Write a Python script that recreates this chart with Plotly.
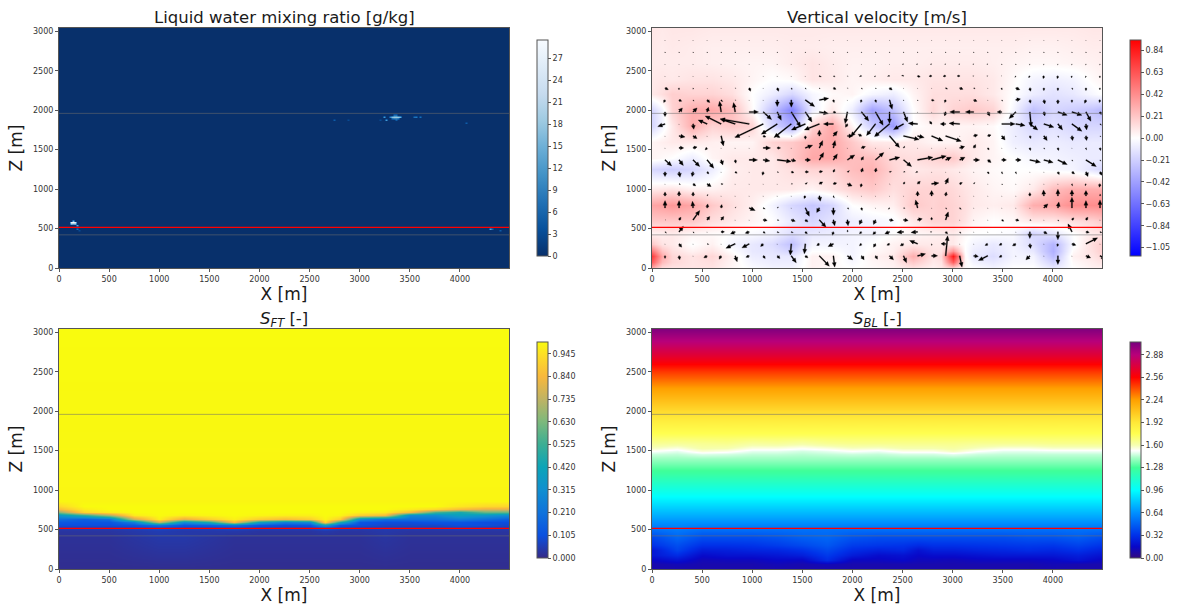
import math
import numpy as np
import plotly.graph_objects as go

W, H = 1178, 606
X_MAX, Z_MAX = 4490, 3042
PANELS = {"qc": (59, 509, 28, 268), "w": (652, 1102, 28, 268), "ft": (59, 509, 329, 569), "bl": (652, 1102, 329, 569)}
CBARS = {"qc": (537, 40), "w": (1130, 40), "ft": (537, 342), "bl": (1130, 342)}

levels_gray = [1960, 420]
level_red = 515

# ---- liquid water: sparse cloud cells on a zero background
qc_x = [124, 140, 150, 124, 140, 150, 140, 142, 172, 172, 190, 3235, 3265, 3300, 3320, 3340, 3360, 3380, 3400, 3320, 3340, 3360, 3380, 3340, 3360, 3350, 3535, 3560, 3590, 2740, 2880, 3200, 4060, 4305, 4325, 4405]
qc_z = [589, 589, 589, 569, 569, 569, 609, 555, 538, 496, 479, 1915, 1886, 1915, 1915, 1915, 1915, 1915, 1915, 1895, 1895, 1895, 1895, 1935, 1935, 1870, 1915, 1915, 1915, 1873, 1873, 1873, 1840, 496, 496, 479]
qc_v = [27, 29, 25, 14, 22, 14, 16, 12, 14, 7, 3, 12, 12, 10, 17, 18, 18, 18, 15, 8, 10, 10, 8, 7, 7, 5, 7, 8, 7, 5, 3, 3, 5, 13, 6, 5]
qc_ticks = [0, 3, 6, 9, 12, 15, 18, 21, 24, 27]

# ---- vertical velocity (m/s), rows ascending in z
w_x = [0, 200, 400, 600, 800, 1000, 1200, 1400, 1600, 1800, 2000, 2200, 2400, 2600, 2800, 3000, 3200, 3400, 3600, 3800, 4000, 4200, 4400, 4490]
w_z = [0, 80, 150, 220, 300, 450, 600, 800, 1000, 1250, 1400, 1600, 1800, 2000, 2200, 2400, 2600, 2800, 3042]
w_rows = [
    [.3,.1,.1,.1,.03,-.02,-.05,-.05,.05,.02,0,.02,.05,.1,.05,.15,0,-.05,0,0,-.1,0,.05,.05],
    [.6,.15,.1,.12,.04,-.05,-.08,-.08,.05,.03,-.03,.03,.06,.2,.08,.6,-.05,-.1,-.03,-.03,-.2,.02,.07,.1],
    [.72,.15,.1,.15,.05,-.08,-.1,-.1,.05,.05,-.05,.05,.08,.3,.1,.85,-.1,-.15,-.05,-.05,-.3,.05,.1,.15],
    [.5,.12,.05,.1,0,-.1,-.12,-.2,0,0,-.05,.02,.06,.2,.1,.4,-.08,-.12,-.05,-.1,-.35,.02,.12,.18],
    [.2,.08,0,.05,-.05,-.1,-.15,-.28,-.05,-.05,-.05,0,.05,.08,.08,.08,-.05,-.1,-.05,-.15,-.33,-.02,.13,.18],
    [.05,.08,.04,.02,0,-.02,-.05,-.14,-.1,-.08,-.05,-.05,0,.03,.05,.08,0,0,-.02,-.18,-.1,0,.08,.1],
    [.2,.2,.2,.12,.08,.04,0,-.1,-.18,-.12,-.08,-.05,-.03,.08,.16,.16,.04,0,.02,.08,.08,.12,.16,.2],
    [.33,.38,.33,.2,.12,.06,-.05,-.18,-.25,-.18,0,.04,.06,.2,.16,.16,.08,.06,.08,.3,.33,.42,.42,.42],
    [.08,.1,.05,.05,.08,.08,.08,.08,.04,.1,.16,.2,.12,.16,.16,.14,.08,.04,.02,.08,.24,.3,.3,.3],
    [-.18,-.22,-.18,-.08,.06,.08,.08,.12,.16,.16,.24,.28,.16,.08,.1,.08,.04,.02,0,0,-.03,-.05,-.13,-.18],
    [.04,0,-.08,.04,.08,.08,.08,.2,.32,.32,.24,.24,.14,.12,.16,.2,.08,.04,0,-.04,-.05,-.07,-.09,-.09],
    [.04,.08,.08,.06,.04,.04,.16,.2,.28,.32,.2,.08,.08,.08,.04,.04,.08,.04,-.07,-.1,-.08,-.1,-.09,-.09],
    [-.18,.08,.3,.16,.2,.16,-.18,-.36,.16,.32,.04,-.22,-.45,0,.04,.04,.04,.02,-.08,-.18,-.13,-.18,-.18,-.18],
    [-.18,.16,.3,.32,.25,.02,-.27,-.55,-.08,.08,-.08,-.42,-.27,0,.15,.16,.2,.16,-.04,-.28,-.18,-.22,-.27,-.32],
    [.08,.18,.16,.16,.12,0,-.08,-.18,-.04,.02,.04,-.04,-.08,.04,.12,.12,.12,.08,0,-.08,-.13,-.1,-.03,0],
    [.08,.08,.1,.1,.08,.04,0,.02,.1,.08,.04,.06,.08,.08,.1,.1,.1,.08,.02,-.05,-.07,-.05,.02,.04],
    [.07,.07,.07,.06,.05,.04,.04,.07,.1,.07,.05,.05,.06,.06,.07,.07,.07,.06,.04,.03,.03,.04,.05,.06],
    [.08,.08,.07,.06,.06,.06,.06,.07,.07,.06,.06,.06,.06,.06,.06,.06,.06,.06,.06,.05,.05,.06,.07,.07],
    [.09,.09,.09,.08,.08,.08,.08,.08,.08,.08,.08,.08,.08,.08,.08,.08,.08,.08,.08,.08,.08,.08,.09,.09],
]
# extra columns that keep the two surface updraughts narrow
w_extra_x = [100, 2880, 3120]
w_extra_cols = [
    [.12,.25,.32,.22,.1,.06,.2,.35,.09,-.2,.02,.06,-.05,-.05,.12,.09,.07,.07,.08],
    [.08,.1,.14,.1,.08,.06,.16,.18,.16,.1,.18,.04,.04,.1,.12,.1,.07,.06,.08],
    [.02,.03,.02,.0,0,.02,.1,.12,.1,.06,.12,.06,.04,.18,.12,.1,.07,.06,.08],
]
w_ticks = [0.84, 0.63, 0.42, 0.21, 0.0, -0.21, -0.42, -0.63, -0.84, -1.05]

# ---- wind arrows: components in thirds of a screen pixel, v measured downward
arrow_x = [130 + 140 * k for k in range(32)]
arrow_z = [2890, 2738, 2586, 2434, 2282, 2130, 1978, 1826, 1674, 1522, 1370, 1218, 1066, 914, 762, 610, 458, 306, 154]
arrow_u = [
    [0]*32,
    [0]*32,
    [0]*17+[-4,-4,-4,-3,-3,-3,-3,0,0,-1,-1,-1,-1,-1,-1],
    [0]*11+[6,5,2,-6,-4,-6,-6,8,-8,-8,-8,-3,-3,-2,-3,-3,-2,-2,-1,-2,0],
    [10,0,0,1,0,2,4,0,4,2,2,2,8,2,2,2,8,0,0,0,6,10,4,0,1,12,2,0,0,2,0,0],
    [-4,8,2,8,5,2,0,0,0,0,28,28,2,0,-2,2,8,0,1,8,-3,0,10,0,2,14,2,3,0,0,-4,-2],
    [0,10,12,4,-5,-5,28,25,12,28,20,27,8,-7,22,23,0,12,0,0,-3,-30,-25,6,-14,-20,4,3,28,30,15,4],
    [-22,0,2,-27,-48,-45,-87,-85,-48,-52,-42,-45,-30,-6,-32,-27,-45,-30,-28,-6,-16,-32,0,0,40,28,24,30,14,30,2,4],
    [0,18,12,0,7,0,0,8,8,2,0,0,12,16,-10,8,30,47,20,34,47,0,12,10,10,0,3,10,2,2,2,2],
    [0,14,12,-6,0,0,0,22,10,0,22,10,5,0,12,0,0,3,0,0,0,15,6,4,0,0,2,2,2,0,2,2],
    [20,13,20,20,5,2,25,20,42,14,16,13,12,22,6,25,31,24,46,44,17,16,18,10,14,16,32,28,28,2,31,2],
    [0,3,-3,5,0,6,0,-2,4,8,10,10,4,6,4,2,6,5,-6,0,0,0,0,4,3,2,0,0,4,8,6,6],
    [0,4,8,12,6,0,0,0,0,4,6,10,10,14,-2,0,2,4,8,22,8,8,4,0,2,0,0,0,0,2,-2,-2],
    [0,0,0,3,0,0,0,0,0,0,-4,3,3,0,0,0,0,0,0,0,2,0,0,0,0,0,0,-1,0,0,0,0],
    [0,0,-2,2,2,3,18,6,4,0,12,-8,0,4,2,0,-4,4,-6,0,3,5,0,0,0,0,0,12,3,0,0,0],
    [2,6,20,8,8,0,0,12,5,12,8,20,4,2,-6,-6,12,14,14,0,8,0,0,0,6,10,4,0,2,6,6,0],
    [4,13,3,0,10,-14,-12,6,6,6,6,0,-3,0,-6,-8,-14,-20,-20,-4,6,3,0,0,0,0,0,10,0,-12,10,6],
    [0,8,0,5,0,-28,-22,-8,0,-3,-3,-8,-16,0,-6,-6,-8,-10,-24,0,-14,0,0,-8,-8,-10,2,0,-2,12,35,0],
    [0,2,0,-10,-6,6,-10,6,8,15,8,30,4,16,8,6,12,9,24,18,6,7,14,-28,-8,0,-12,0,0,0,14,18],
]
arrow_v = [
    [2]*32,
    [3]*32,
    [2]*17+[1,1,1,1,1,1,1,3,3,3,3,3,3,3,3],
    [2]*11+[2,3,2,2,2,1,-1,3,1,1,0,0,0,0,4,6,8,8,6,5,6],
    [5,6,4,2,2,2,10,2,10,5,4,3,4,2,4,3,6,2,2,2,3,4,3,2,6,5,10,8,8,5,8,6],
    [8,4,4,8,5,2,2,2,20,22,20,-5,8,2,8,8,28,3,3,2,8,2,4,2,4,-3,10,12,12,8,10,8],
    [14,-12,-12,-14,-32,-28,0,23,25,45,30,5,2,35,27,40,35,30,2,2,12,0,0,12,0,20,45,12,10,10,28,8],
    [8,2,16,-12,-24,-15,-15,41,31,41,18,18,0,10,38,35,38,17,-2,-8,0,-2,2,2,0,5,18,10,18,22,18,4],
    [2,3,8,2,30,2,2,3,5,2,10,-18,-14,0,-5,-6,35,11,5,15,16,2,-3,-3,12,2,8,14,5,14,14,3],
    [2,0,-3,6,2,2,2,0,0,2,-8,-22,-22,2,-4,2,2,-6,2,2,2,-4,-10,6,2,2,8,4,8,2,6,8],
    [18,17,20,25,15,10,0,3,5,3,0,-22,-18,-15,-10,-22,-8,20,-8,-12,-8,-8,0,8,0,0,7,8,14,4,20,4],
    [14,16,14,6,2,4,2,10,2,2,0,-2,-8,-4,-12,-12,-2,0,2,2,2,2,2,6,6,6,2,2,8,6,14,10],
    [2,2,6,8,0,2,2,2,2,0,-4,-6,-3,6,10,2,2,-6,-8,-3,-18,-4,-4,2,3,2,2,2,2,6,6,10],
    [-12,-14,-12,-4,2,2,2,2,2,2,8,16,6,2,2,2,2,2,-14,-16,-12,2,2,2,2,2,-10,-18,-20,-18,-16,-6],
    [-22,-22,-20,-12,-10,-2,8,3,-2,2,25,14,22,4,8,2,4,2,-24,2,4,4,2,2,2,2,2,-12,-18,-32,-22,-24],
    [0,-8,-28,-10,-10,2,2,2,2,4,6,22,18,18,14,14,2,2,-3,-8,-24,2,2,2,4,2,2,2,4,-6,-8,2],
    [4,-17,4,2,0,6,4,4,2,2,6,2,10,-6,6,8,6,2,2,0,6,5,2,2,2,2,20,6,24,-24,2,2],
    [2,10,2,2,2,13,12,8,2,34,30,5,8,2,6,10,4,6,-10,5,0,2,2,5,4,6,14,2,8,4,-18,2],
    [8,12,2,6,10,18,4,8,8,21,6,31,34,12,12,10,12,21,-6,0,-60,34,2,14,4,2,12,2,26,2,6,10],
]

# ---- free-troposphere tracer
col_x = [0, 250, 500, 750, 1000, 1250, 1500, 1750, 2000, 2250, 2500, 2650, 2800, 3000, 3250, 3500, 3750, 4000, 4250, 4490]
ft_z = [0, 400, 480, 520, 560, 600, 640, 680, 720, 760, 800, 860, 3042]
ft_rows = [
    [.01]*20,
    [.02,.02,.02,.03,.04,.04,.03,.02,.02,.02,.02,.02,.02,.02,.03,.02,.02,.02,.02,.02],
    [.03,.03,.03,.04,.05,.04,.04,.04,.03,.03,.03,.04,.03,.03,.04,.03,.03,.03,.03,.03],
    [.05,.05,.05,.06,.08,.06,.06,.08,.06,.06,.06,.1,.06,.05,.05,.05,.05,.06,.05,.05],
    [.1,.1,.1,.12,.2,.12,.15,.2,.12,.1,.12,.35,.12,.1,.08,.08,.08,.1,.1,.08],
    [.13,.12,.12,.25,.75,.3,.45,.85,.4,.25,.3,.92,.45,.12,.1,.1,.12,.12,.1,.1],
    [.2,.15,.2,.75,.98,.8,.9,.98,.9,.85,.9,.99,.9,.3,.2,.2,.2,.25,.2,.15],
    [.35,.5,.7,.97,1,.98,.99,1,.99,.98,.98,1,.99,.9,.85,.3,.3,.4,.35,.3],
    [.65,.92,.97,1,1,1,1,1,1,1,1,1,1,.98,.97,.85,.55,.45,.6,.6],
    [.85,.97,1,1,1,1,1,1,1,1,1,1,1,1,1,.97,.93,.85,.8,.8],
    [.93,1,1,1,1,1,1,1,1,1,1,1,1,1,1,1,1,.96,.93,.92],
    [.99]*20,
    [1]*20,
]
ft_ticks = [0.0, 0.105, 0.21, 0.315, 0.42, 0.525, 0.63, 0.735, 0.84, 0.945]

# ---- boundary-layer tracer
bl_z = [0, 60, 120, 180, 240, 300, 400, 500, 600, 800, 1000, 1200, 1400, 1460, 1500, 1540, 1600, 1700, 2000, 2300, 2500, 2600, 2700, 2850, 3042]
bl_rows = [
    [.1]*20,
    [.1,.12,.1,.1,.1,.12,.1,.12,.1,.1,.1,.1,.1,.1,.1,.1,.1,.12,.1,.1],
    [.15,.2,.12,.13,.13,.16,.15,.3,.14,.14,.16,.13,.13,.12,.14,.14,.14,.15,.2,.14],
    [.22,.3,.17,.2,.2,.22,.25,.35,.24,.18,.2,.16,.18,.18,.2,.22,.22,.22,.25,.2],
    [.22,.38,.24,.25,.27,.28,.32,.4,.3,.26,.28,.2,.25,.25,.27,.28,.3,.28,.32,.26],
    [.32,.42,.32,.32,.33,.36,.4,.45,.36,.34,.33,.3,.32,.32,.33,.34,.35,.34,.38,.33],
    [.4,.5,.42,.42,.42,.44,.48,.5,.44,.42,.42,.42,.42,.42,.42,.42,.44,.44,.47,.42],
    [.52,.56,.52,.52,.52,.52,.53,.53,.52,.52,.52,.52,.52,.52,.52,.52,.52,.52,.53,.52],
    [.64]*20,
    [.84]*20,
    [1.04]*20,
    [1.24]*20,
    [1.4]*20,
    [1.46,1.45,1.48,1.47,1.45,1.45,1.44,1.45,1.46,1.45,1.47,1.47,1.47,1.49,1.46,1.45,1.45,1.45,1.45,1.45],
    [1.52,1.49,1.56,1.54,1.49,1.49,1.47,1.49,1.52,1.5,1.54,1.54,1.54,1.58,1.52,1.49,1.49,1.5,1.5,1.5],
    [1.58,1.55,1.61,1.6,1.55,1.55,1.53,1.55,1.58,1.57,1.6,1.6,1.6,1.62,1.58,1.55,1.55,1.57,1.57,1.57],
    [1.65,1.64,1.65,1.66,1.63,1.64,1.62,1.65,1.66,1.66,1.66,1.66,1.66,1.66,1.65,1.65,1.65,1.66,1.66,1.66],
    [1.74]*20,
    [1.98]*20,
    [2.24]*20,
    [2.44]*20,
    [2.56]*20,
    [2.68]*20,
    [2.84]*20,
    [3.03]*20,
]
bl_ticks = [0.0, 0.32, 0.64, 0.96, 1.28, 1.6, 1.92, 2.24, 2.56, 2.88]

# ---- colour scales
W_MIN, W_MAX = -1.13, 0.94
W_MID = -W_MIN / (W_MAX - W_MIN)
w_scale = [[0, "#0000ff"], [W_MID, "#ffffff"], [1, "#ff0000"]]
FT_MAX = 1.0
ft_scale = [[0, "#352a87"], [.105, "#0a50e0"], [.21, "#0f72dc"], [.315, "#108fd0"], [.42, "#0ba4b8"], [.525, "#3bae94"],
            [.63, "#7cb97c"], [.735, "#bfb364"], [.84, "#f8b83c"], [.945, "#fde025"], [1, "#f9fb0e"]]
BL_MAX = 3.06
bl_stops = [(0, "#340a80"), (.16, "#0808c8"), (.32, "#0030e8"), (.64, "#0090ff"), (.96, "#00ffff"), (1.28, "#40ff98"),
            (1.42, "#a8ffc8"), (1.52, "#ffffff"), (1.6, "#f6ffb0"), (1.76, "#ffff50"), (1.92, "#ffe838"), (2.24, "#ffa000"),
            (2.56, "#ff0000"), (2.88, "#b8007a"), (3.06, "#78007f")]
bl_scale = [[v / BL_MAX, c] for v, c in bl_stops]

# ---- build
fig = go.Figure()
names = {"qc": "", "w": "2", "ft": "3", "bl": "4"}


def colorbar(key, ticks, text):
    cx, cy = CBARS[key]
    return dict(x=cx / W, xanchor="left", y=1 - cy / H, yanchor="top", len=216 / H, lenmode="fraction", thickness=11,
                thicknessmode="pixels", xpad=0, ypad=0, outlinewidth=1, outlinecolor="#555555", ticks="outside", ticklen=3,
                tickwidth=1, tickcolor="#555555", tickvals=ticks, ticktext=text,
                tickfont=dict(family="DejaVu Sans", size=8, color="#333333"))


def tick_text(ticks, fmt):
    return [fmt.format(t).replace("-", "\u2212") for t in ticks]


qc_grid_x = list(range(0, X_MAX + 20, 20))
qc_grid_z = list(range(0, Z_MAX + 20, 20))
qc_grid = np.zeros((len(qc_grid_z), len(qc_grid_x)))
for px, pz, pv in zip(qc_x, qc_z, qc_v):
    qc_grid[round(pz / 20), round(px / 20)] = pv

# merge the extra columns into the velocity table, keeping x ascending
w_all_x = np.array(w_x + w_extra_x, dtype=float)
w_all = np.column_stack([np.array(w_rows)] + [np.array(c) for c in w_extra_cols])
w_order = np.argsort(w_all_x)
w_all_x, w_all = w_all_x[w_order], w_all[:, w_order]

fig.add_trace(go.Heatmap(x=qc_grid_x, y=qc_grid_z, z=qc_grid, zmin=0, zmax=29.5, colorscale="Blues_r", zsmooth="best",
                         colorbar=colorbar("qc", qc_ticks, [str(t) for t in qc_ticks]), xaxis="x", yaxis="y"))
fig.add_trace(go.Heatmap(x=w_all_x, y=w_z, z=w_all, zmin=W_MIN, zmax=W_MAX, colorscale=w_scale, zsmooth="best",
                         colorbar=colorbar("w", w_ticks, tick_text(w_ticks, "{:.2f}")), xaxis="x2", yaxis="y2"))
fig.add_trace(go.Heatmap(x=col_x, y=ft_z, z=ft_rows, zmin=0, zmax=FT_MAX, colorscale=ft_scale, zsmooth="best",
                         colorbar=colorbar("ft", ft_ticks, tick_text(ft_ticks, "{:.3f}")), xaxis="x3", yaxis="y3"))
fig.add_trace(go.Heatmap(x=col_x, y=bl_z, z=bl_rows, zmin=0, zmax=BL_MAX, colorscale=bl_scale, zsmooth="best",
                         colorbar=colorbar("bl", bl_ticks, tick_text(bl_ticks, "{:.2f}")), xaxis="x4", yaxis="y4"))

# arrows as filled polygons, tail on the grid point, built in screen pixels then mapped to data units
PX_X = 450 / X_MAX
PX_Z = 240 / Z_MAX
qx, qz = [], []
for j, zz in enumerate(arrow_z):
    for k, xx in enumerate(arrow_x):
        dx, dy = arrow_u[j][k] / 3, arrow_v[j][k] / 3
        length = math.hypot(dx, dy)
        if length == 0:
            continue
        ux, uy = dx / length, dy / length
        nx, ny = -uy, ux
        head = min(4.6, length * 0.7)
        hw = min(2.0, head * 0.55)
        sw = min(0.55, hw * 0.5)
        outline = [(0, sw), (length - head, sw), (length - head, hw), (length, 0), (length - head, -hw), (length - head, -sw), (0, -sw), (0, sw)]
        for a, b in outline:
            sx = ux * a + nx * b
            sy = uy * a + ny * b
            qx.append(xx + sx / PX_X)
            qz.append(zz - sy / PX_Z)
        qx.append(None)
        qz.append(None)
fig.add_trace(go.Scatter(x=qx, y=qz, mode="lines", fill="toself", fillcolor="#000000", line=dict(color="#000000", width=0.3),
                         hoverinfo="skip", showlegend=False, xaxis="x2", yaxis="y2"))

for suffix in names.values():
    for lev in levels_gray:
        fig.add_trace(go.Scatter(x=[0, X_MAX], y=[lev, lev], mode="lines", line=dict(color="rgba(110,110,110,0.55)", width=1),
                                 hoverinfo="skip", showlegend=False, xaxis="x" + suffix, yaxis="y" + suffix))
    fig.add_trace(go.Scatter(x=[0, X_MAX], y=[level_red, level_red], mode="lines", line=dict(color="#ff0000", width=1.3),
                             hoverinfo="skip", showlegend=False, xaxis="x" + suffix, yaxis="y" + suffix))

tick_font = dict(family="DejaVu Sans", size=8, color="#333333")
title_font = dict(family="DejaVu Sans", size=17, color="#1a1a1a")
layout = dict(width=W, height=H, margin=dict(l=0, r=0, t=0, b=0, autoexpand=False), paper_bgcolor="white", plot_bgcolor="white",
              showlegend=False, font=dict(family="DejaVu Sans"))
for key, suffix in names.items():
    l, r, t, b = PANELS[key]
    layout["xaxis" + suffix] = dict(domain=[l / W, r / W], range=[0, X_MAX], anchor="y" + suffix, tickvals=list(range(0, 4001, 500)),
                                    ticks="outside", ticklen=3, tickwidth=1, tickcolor="#555555", showgrid=False, zeroline=False,
                                    showline=True, mirror=True, linecolor="#555555", linewidth=1, tickfont=tick_font, automargin=False,
                                    title=dict(text="X [m]", font=title_font, standoff=2))
    layout["yaxis" + suffix] = dict(domain=[1 - b / H, 1 - t / H], range=[0, Z_MAX], anchor="x" + suffix, tickvals=list(range(0, 3001, 500)),
                                    ticks="outside", ticklen=3, tickwidth=1, tickcolor="#555555", showgrid=False, zeroline=False,
                                    showline=True, mirror=True, linecolor="#555555", linewidth=1, tickfont=tick_font, automargin=False,
                                    title=dict(text="Z [m]", font=title_font, standoff=6))

titles = {"qc": "Liquid water mixing ratio [g/kg]", "w": "Vertical velocity [m/s]",
          "ft": "<i>S<sub>FT</sub></i> [-]", "bl": "<i>S<sub>BL</sub></i> [-]"}
title_gap = {"qc": -1, "w": -1, "ft": -3, "bl": -3}
layout["annotations"] = [dict(text=titles[key], xref="paper", yref="paper", x=(PANELS[key][0] + PANELS[key][1]) / 2 / W,
                              y=1 - (PANELS[key][2] - title_gap[key]) / H, xanchor="center", yanchor="bottom", showarrow=False,
                              font=dict(family="DejaVu Sans", size=16.5, color="#1a1a1a")) for key in names]
fig.update_layout(**layout)
fig.write_html("out.html", config={"displayModeBar": False},
               post_script="document.body.style.margin='0';document.body.style.overflow='hidden';")
